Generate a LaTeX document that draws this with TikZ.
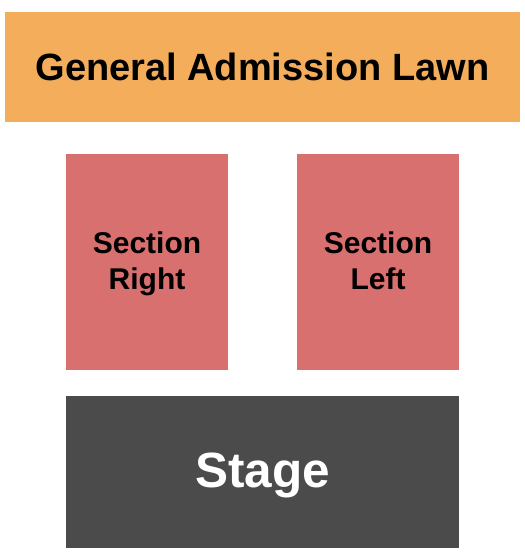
\documentclass[tikz,border=0pt]{standalone}
\usepackage{fontspec}
\setmainfont{Liberation Sans}
\usetikzlibrary{positioning}
\definecolor{lawn}{HTML}{F4AE5B}
\definecolor{seat}{HTML}{D8706F}
\definecolor{stagegray}{HTML}{4B4B4B}

\begin{document}
\begin{tikzpicture}[x=1pt, y=-1pt,
  area/.style={inner sep=0pt, align=center, font=\bfseries},
  section/.style={area, fill=seat, minimum width=162pt, minimum height=216pt},
  sectiontext/.style={area, font=\bfseries\fontsize{30}{35.5}\selectfont}]
		\useasboundingbox (0,0) rectangle (525,560);
		\node[area, fill=lawn, minimum width=515pt, minimum height=110pt, text height=27pt, text depth=0pt, font=\bfseries\fontsize{38}{44}\selectfont] (lawn) at (262.5,67) {General Admission Lawn};
		\node[section] (right) at (147,262) {};
		\node[section] (left) at (378,262) {};
		\node[sectiontext] (right text) at ([yshift=-2pt]right.center) {Section\\Right};
		\node[sectiontext] (left text) at ([yshift=-2pt]left.center) {Section\\Left\vphantom{g}};
		\node[area, fill=stagegray, text=white, minimum width=393pt, minimum height=152pt, text height=31pt, text depth=0pt, font=\bfseries\fontsize{49.5}{55}\selectfont] (stage) at (262.5,472) {Stage};
	\end{tikzpicture}
\end{document}
